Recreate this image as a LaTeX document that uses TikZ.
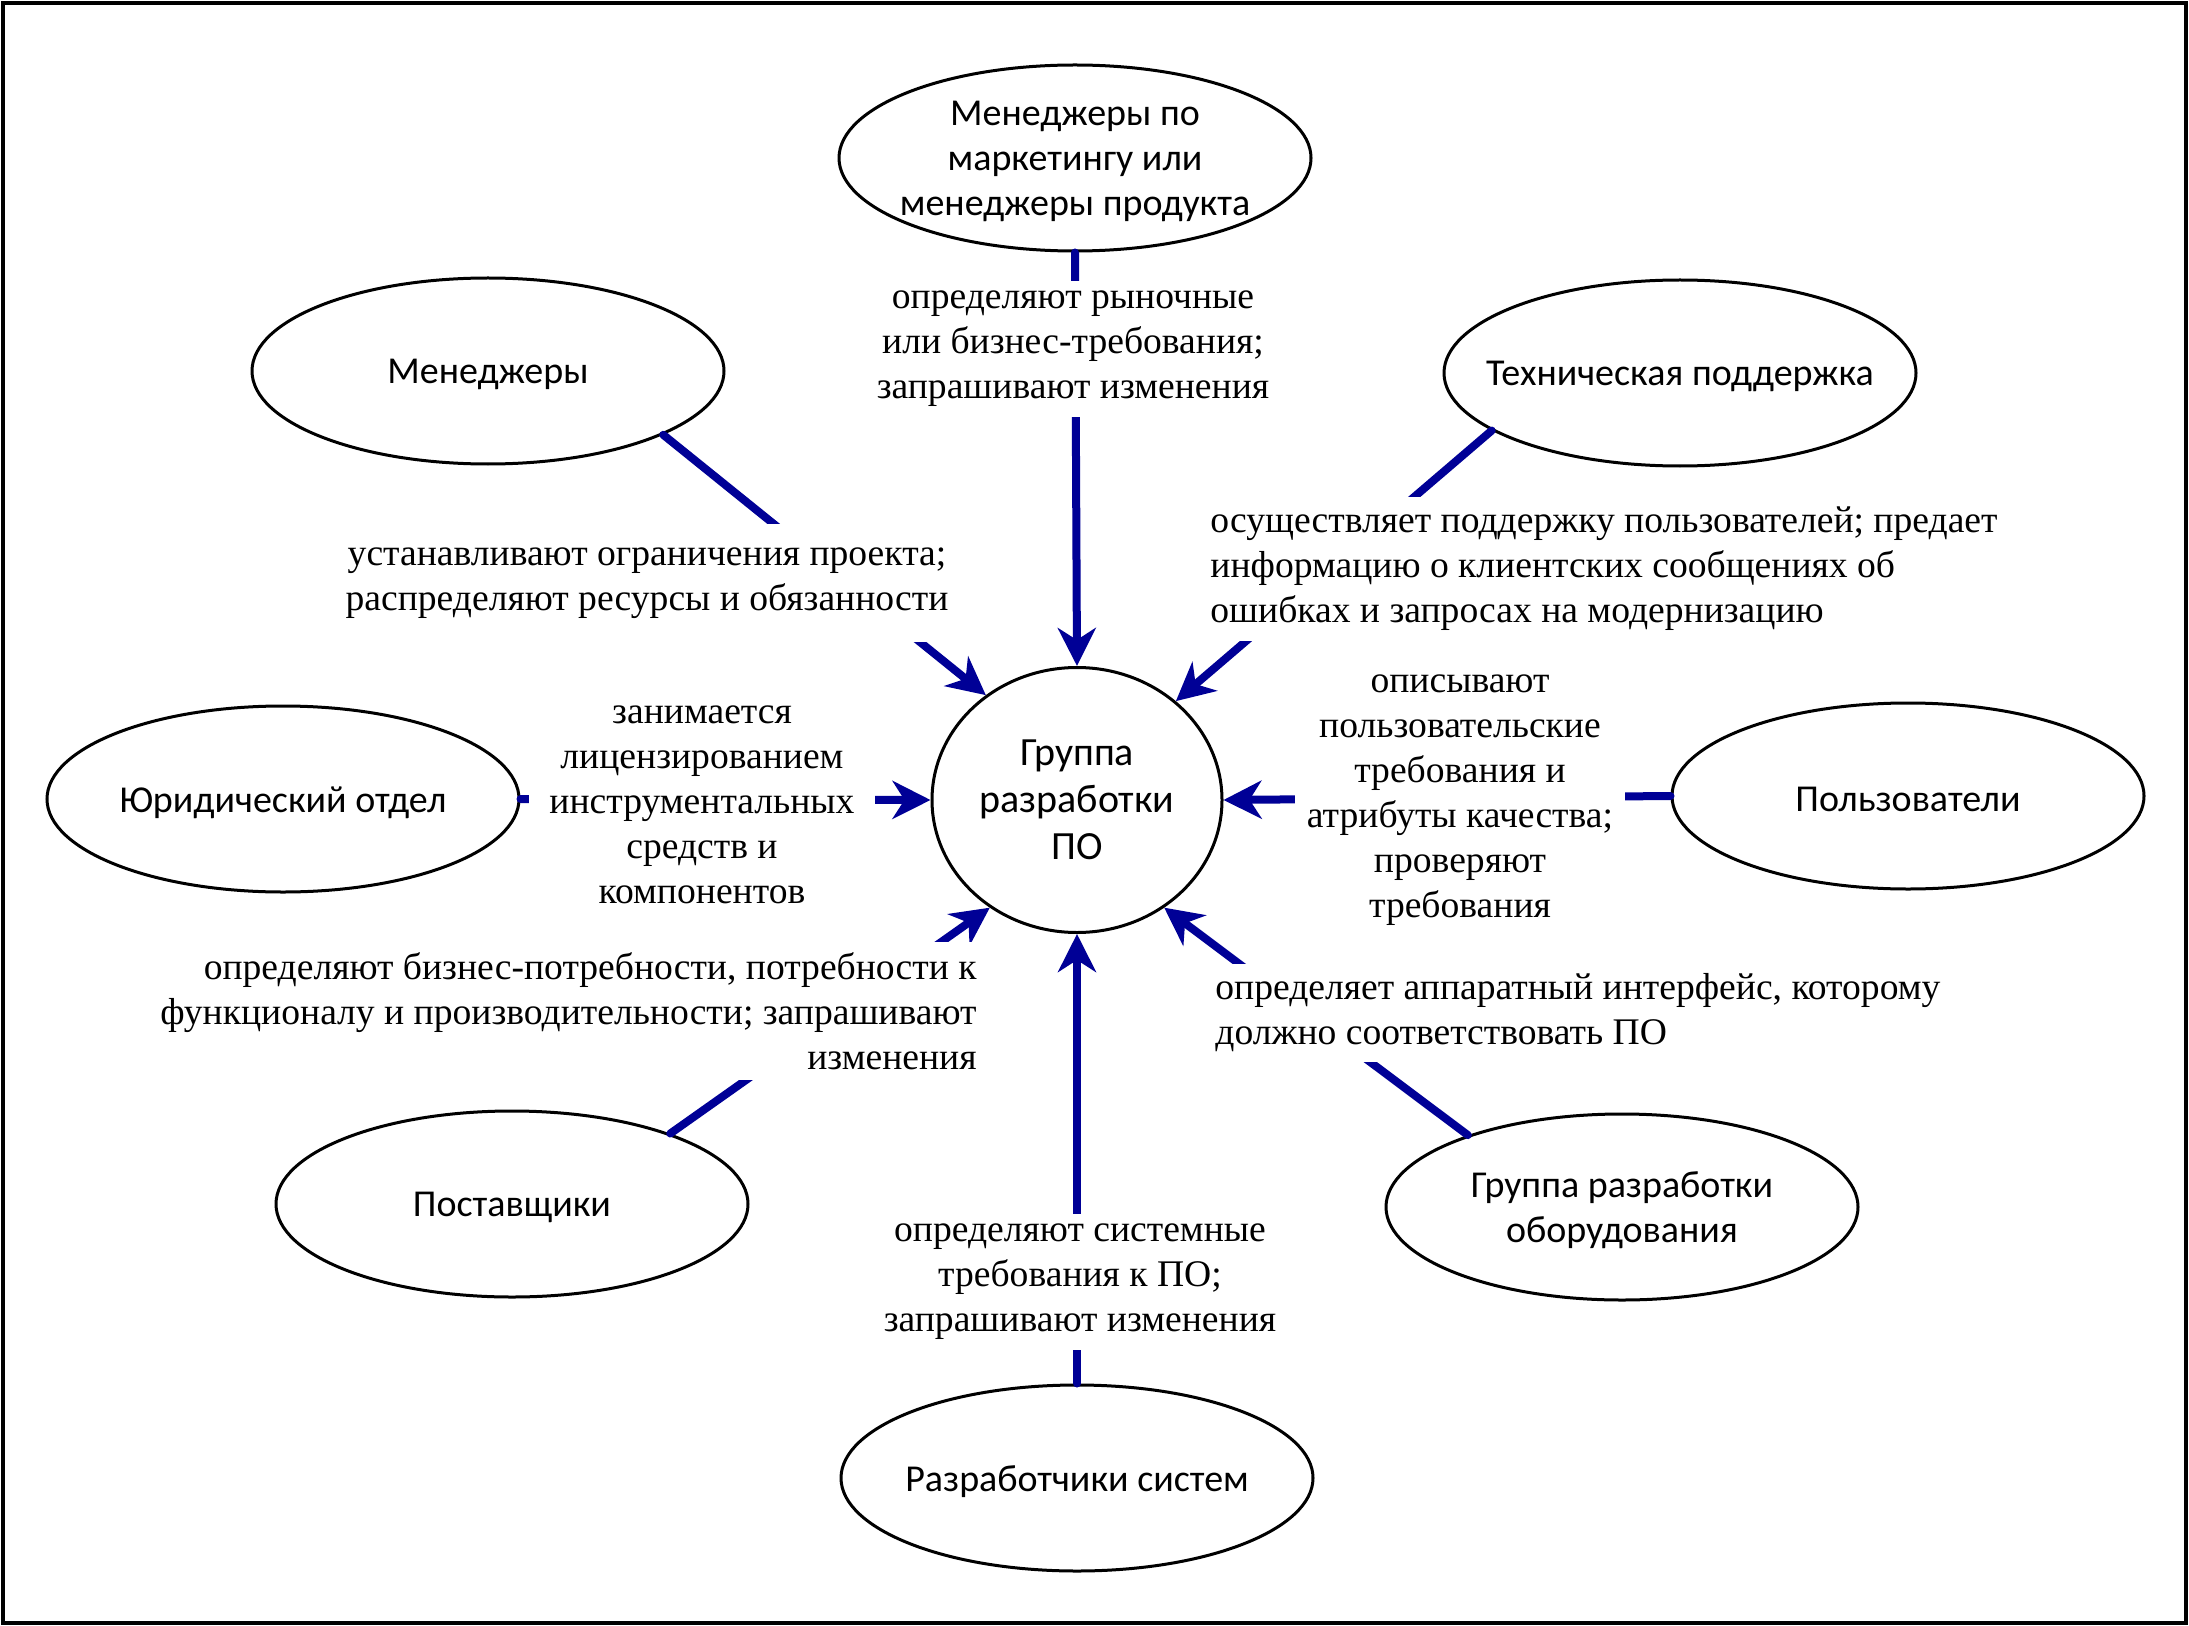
\documentclass[tikz,border=0pt]{standalone}
\usepackage{fontspec}
\setmainfont{Liberation Serif}
\newfontfamily\ellfont{Carlito}
\usetikzlibrary{shapes.geometric,arrows.meta}
\definecolor{arrblue}{RGB}{0,0,150}
\tikzset{
  ell/.style={ellipse, draw, line width=1.5pt, minimum width=236pt, minimum height=93pt,
    inner sep=0pt},
  elltext/.style={yshift=-1.8pt, inner sep=0pt, align=center, font=\ellfont\fontsize{19}{22.5}\selectfont},
  lbl/.style={fill=white, inner xsep=6pt, inner ysep=5pt, font=\fontsize{18.8}{22.5}\selectfont},
  conn/.style={draw=arrblue, line width=4pt, line cap=round,
    -{Stealth[length=19pt,width=19pt,inset=6pt]}},
}
\begin{document}
\begin{tikzpicture}[x=0.5pt,y=-0.5pt]
\useasboundingbox (0,0) rectangle (2189,1626);
\draw[line width=2pt] (3,3) rectangle (2186,1623);

\node[ell, label={[elltext]center:Менеджеры по\\маркетингу или\\менеджеры продукта}] (mk) at (1075,158) {};
\node[ell, label={[elltext]center:Менеджеры}] (mgr) at (488,371) {};
\node[ell, label={[elltext]center:Техническая поддержка}] (tech) at (1680,373) {};
\node[ell, label={[elltext]center:Юридический отдел}] (legal) at (283,799) {};
\node[ell, label={[elltext]center:Пользователи}] (users) at (1908,796) {};
\node[ell, label={[elltext]center:Поставщики}] (sup) at (512,1204) {};
\node[ell, label={[elltext]center:Группа разработки\\оборудования}] (hw) at (1622,1207) {};
\node[ell, label={[elltext]center:Разработчики систем}] (dev) at (1077,1478) {};
\node[ellipse, draw, line width=1.5pt, minimum width=145pt, minimum height=132.5pt,
  inner sep=0pt, align=center, font=\ellfont\fontsize{20}{23.5}\selectfont]
  (ctr) at (1077,800) {Группа\\разработки\\ПО};

\draw[conn] (mk.south) -- (ctr.north);
\draw[conn] (mgr.-20.1) -- (ctr.131.15);
\draw[conn] (tech.197.9) -- (ctr.45.8);
\draw[conn] (legal.east) -- (ctr.west);
\draw[conn] (users.west) -- (ctr.east);
\draw[conn] (sup.24.2) -- (ctr.231.7);
\draw[conn] (hw.155.4) -- (ctr.-51.3);
\draw[conn] (dev.north) -- (ctr.south);

\node[lbl, align=center] (lmk) at (1073,349) {определяют рыночные\\или бизнес-требования;\\запрашивают изменения};
\node[lbl, align=center, inner ysep=12pt] (lmgr) at (647,583) {устанавливают ограничения проекта;\\распределяют ресурсы и обязанности};
\node[lbl, align=left, anchor=west] (ltech) at (1198,569) {осуществляет поддержку пользователей; предает\\информацию о клиентских сообщениях об\\ошибках и запросах на модернизацию};
\node[lbl, align=center, inner xsep=10pt] (llegal) at (702,805) {занимается\\лицензированием\\инструментальных\\средств и\\компонентов};
\node[lbl, align=center] (lusers) at (1460,800) {описывают\\пользовательские\\требования и\\атрибуты качества;\\проверяют\\требования};
\node[lbl, align=right, anchor=east] (lsup) at (989,1011) {определяют бизнес-потребности, потребности к\\функционалу и производительности; запрашивают\\изменения};
\node[lbl, align=left, anchor=west] (lhw) at (1203,1013) {определяет аппаратный интерфейс, которому\\должно соответствовать ПО};
\node[lbl, align=center] (ldev) at (1080,1282) {определяют системные\\требования к ПО;\\запрашивают изменения};
\end{tikzpicture}
\end{document}
